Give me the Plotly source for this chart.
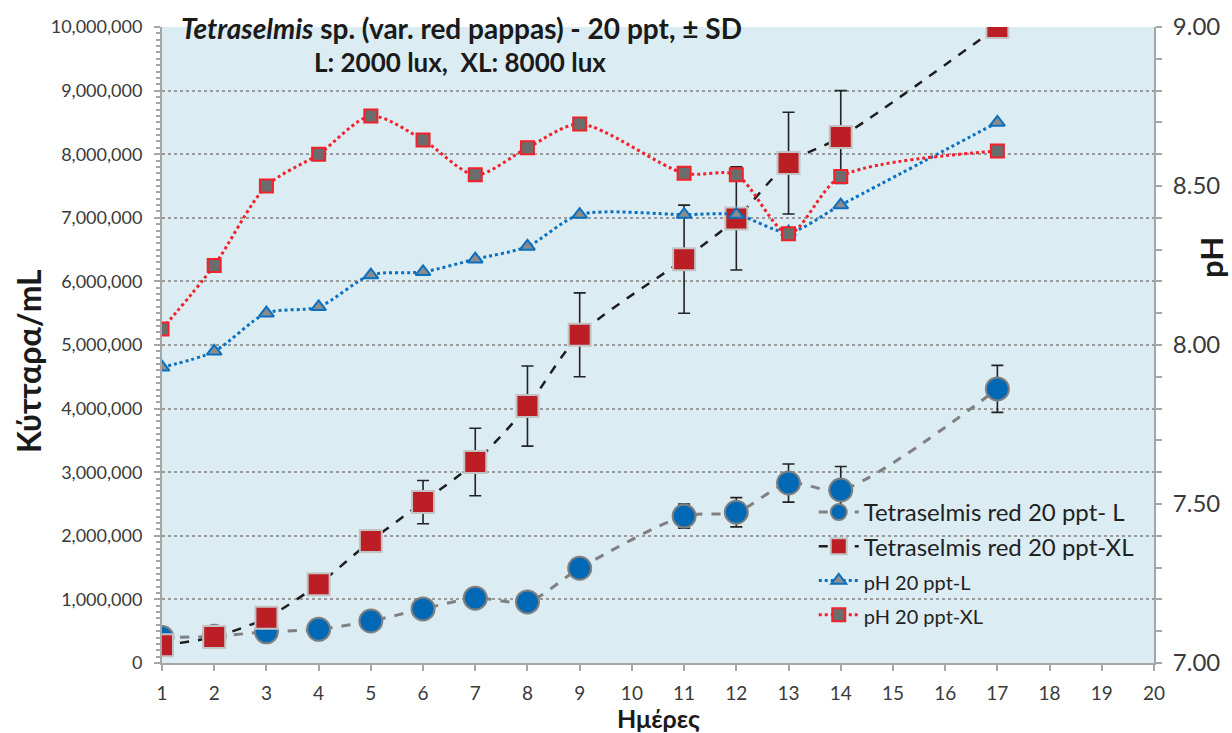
import plotly.graph_objects as go

# Days of sampling
days = [1, 2, 3, 4, 5, 6, 7, 8, 9, 11, 12, 13, 14, 17]

# Cell density (cells/mL) and standard deviation, L = 2000 lux
cells_L = [400000, 420000, 490000, 530000, 660000, 850000, 1020000, 960000,
           1490000, 2310000, 2370000, 2830000, 2720000, 4310000]
sd_L = [20000, 20000, 30000, 30000, 40000, 50000, 60000, 60000,
        90000, 190000, 230000, 300000, 370000, 370000]

# Cell density (cells/mL) and standard deviation, XL = 8000 lux
cells_XL = [280000, 410000, 710000, 1240000, 1920000, 2530000, 3160000, 4040000,
            5160000, 6350000, 6990000, 7860000, 8270000, 10000000]
sd_XL = [20000, 30000, 50000, 90000, 120000, 340000, 530000, 630000,
         660000, 850000, 810000, 800000, 730000, 100000]

# pH values
ph_L = [7.93, 7.98, 8.10, 8.12, 8.22, 8.23, 8.27, 8.31, 8.41, 8.41, 8.41, 8.355, 8.44, 8.70]
ph_XL = [8.05, 8.25, 8.50, 8.60, 8.72, 8.645, 8.535, 8.62, 8.695, 8.54, 8.535, 8.35, 8.53, 8.61]

x_ticks = list(range(1, 21))

FONT = "Lato"
TXT = "#3a3a3a"
AXIS = "#a6a6a6"

fig = go.Figure()

fig.add_trace(go.Scatter(
    x=days, y=cells_L, name="Tetraselmis red 20 ppt- L", mode="lines+markers",
    line=dict(color="#808080", width=3, dash="dash", shape="spline", smoothing=0.8),
    marker=dict(symbol="circle", size=23, color="#0068B5", line=dict(color="#7f7f7f", width=2)),
    error_y=dict(type="data", array=sd_L, color="#222222", thickness=1.6, width=6),
))
fig.add_trace(go.Scatter(
    x=days, y=cells_XL, name="Tetraselmis red 20 ppt-XL", mode="lines+markers",
    line=dict(color="#1e1e1e", width=2.5, dash="dash", shape="spline", smoothing=0.8),
    marker=dict(symbol="square", size=22, color="#BB1E25", line=dict(color="#c3c3c3", width=2)),
    error_y=dict(type="data", array=sd_XL, color="#222222", thickness=1.6, width=6),
))
fig.add_trace(go.Scatter(
    x=days, y=ph_L, name='<span style="font-size:20px">pH 20 ppt-L</span>',
    mode="lines+markers", yaxis="y2",
    line=dict(color="#0A70C0", width=3, dash="dot", shape="spline", smoothing=0.8),
    marker=dict(symbol="triangle-up", size=13, color="#8c8c8c", line=dict(color="#0A70C0", width=2)),
))
fig.add_trace(go.Scatter(
    x=days, y=ph_XL, name='<span style="font-size:20px">pH 20 ppt-XL</span>',
    mode="lines+markers", yaxis="y2",
    line=dict(color="#F4202A", width=3, dash="dot", shape="spline", smoothing=0.8),
    marker=dict(symbol="square", size=13, color="#6c6c6c", line=dict(color="#F4202A", width=2)),
))

fig.update_layout(
    width=1232, height=733,
    margin=dict(l=162, r=78, t=27, b=70),
    paper_bgcolor="white",
    plot_bgcolor="#DBECF3",
    font=dict(family=FONT, size=18, color=TXT),
    showlegend=True,
    legend=dict(
        x=0.657, y=0.272, xanchor="left", yanchor="top",
        bgcolor="rgba(0,0,0,0)", font=dict(size=24, color="#222222"),
        tracegroupgap=0, itemwidth=40,
    ),
    xaxis=dict(
        range=[1, 20], tickmode="array", tickvals=x_ticks, ticktext=[str(v) for v in x_ticks],
        showgrid=False, zeroline=False, showline=True, linecolor=AXIS, linewidth=2,
        ticks="outside", ticklen=6, tickcolor=AXIS, tickwidth=2, ticklabelstandoff=6,
        tickfont=dict(size=19, color=TXT),
    ),
    yaxis=dict(
        range=[0, 10000000], dtick=1000000, tickformat=",",
        showgrid=True, gridcolor="#9a9a9a", griddash="dot", gridwidth=1.5,
        zeroline=False, showline=True, linecolor=AXIS, linewidth=2,
        ticks="outside", ticklen=6, tickcolor=AXIS, tickwidth=2, ticklabelstandoff=8,
        minor=dict(dtick=100000, ticks="outside", ticklen=4, tickcolor=AXIS, tickwidth=1.5, showgrid=False),
        tickfont=dict(size=18, color=TXT),
    ),
    yaxis2=dict(
        range=[7, 9], dtick=0.5, tickformat=".2f", overlaying="y", side="right",
        showgrid=False, zeroline=False, showline=True, linecolor=AXIS, linewidth=2,
        ticks="outside", ticklen=6, tickcolor=AXIS, tickwidth=2, ticklabelstandoff=6,
        minor=dict(dtick=0.1, ticks="outside", ticklen=6, tickcolor=AXIS, tickwidth=1.5),
        tickfont=dict(size=24, color=TXT),
    ),
    annotations=[
        dict(text="<i>Tetraselmis</i> sp. (var. red pappas) - 20 ppt, ± SD",
             x=461, y=28, showarrow=False,
             font=dict(size=28, color="#1a1a1a", family=FONT, weight="bold")),
        dict(text="L: 2000 lux,  XL: 8000 lux",
             x=460, y=62, showarrow=False,
             font=dict(size=26, color="#1a1a1a", family=FONT, weight="bold")),
        dict(text="Κύτταρα/mL", x=28, y=361, textangle=-90, showarrow=False,
             font=dict(size=32, color="#1a1a1a", family=FONT, weight="bold")),
        dict(text="pH", x=1211, y=258, textangle=-90, showarrow=False,
             font=dict(size=31, color="#1a1a1a", family=FONT, weight="bold")),
        dict(text="Ημέρες", x=658, y=718, showarrow=False,
             font=dict(size=25, color="#1a1a1a", family=FONT, weight="bold")),
    ],
)

# Place the free text in pixel coordinates of the full page
W, H = 1232, 733
L, R, T, B = 162, 78, 27, 70
pw, ph = W - L - R, H - T - B
for a in fig.layout.annotations:
    a.xref = "paper"
    a.yref = "paper"
    a.x = (a.x - L) / pw
    a.y = (H - B - a.y) / ph
    a.xanchor = "center"
    a.yanchor = "middle"

fig.write_html("out.html")
